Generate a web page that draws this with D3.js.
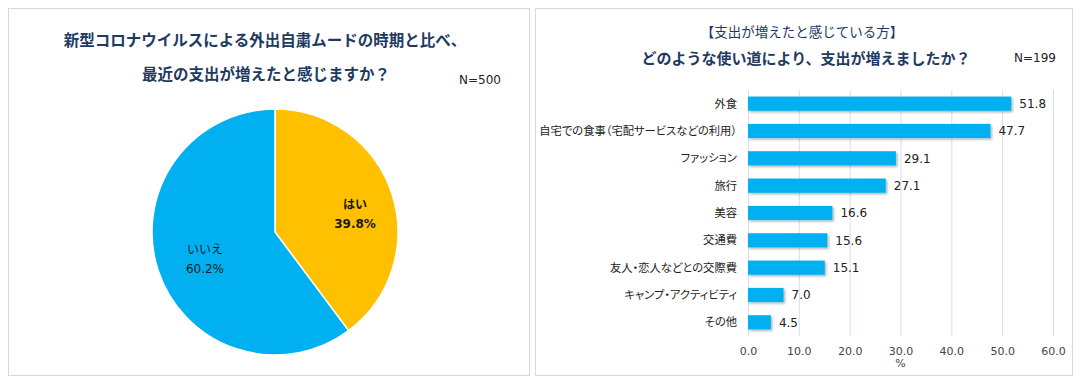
<!DOCTYPE html>
<html>
<head>
	<meta charset="utf-8">
	<title></title>
	<script src="https://d3js.org/d3.v7.min.js"></script>
	<style>
		body { margin: 0; background: #fff; }
		svg { font-family: "Noto Sans CJK JP", sans-serif; }
		.num { font-family: "DejaVu Sans", Verdana, sans-serif; }
		.cat { font-feature-settings: "palt"; }
		.grid line { stroke: #D9DCEF; stroke-width: 1; }
		.grid .domain { display: none; }
		.xaxis .domain, .xaxis line { display: none; }
	</style>
</head>
<body>
	<svg width="1079" height="380"></svg>
<script type="text/javascript">

	// pie data
	var pieLabels = ["はい", "いいえ"];
	var pieValues = [39.8, 60.2];
	var pieColors = ["#FFC000", "#00B0F0"];

	// bar data
	var categories = ["外食", "自宅での食事（宅配サービスなどの利用）", "ファッション", "旅行", "美容", "交通費", "友人・恋人などとの交際費", "キャンプ・アクティビティ", "その他"];
	var barValues = [51.8, 47.7, 29.1, 27.1, 16.6, 15.6, 15.1, 7.0, 4.5];
	var xTicks = [0, 10, 20, 30, 40, 50, 60];

	var navy = "#1F3A5F";
	var svg = d3.select("svg");

	// panel frames
	svg.append("rect").attr("x", 8.5).attr("y", 8.5).attr("width", 521).attr("height", 367)
		.attr("fill", "#fff").attr("stroke", "#D9D9D9");
	svg.append("rect").attr("x", 535.5).attr("y", 8.5).attr("width", 537).attr("height", 367)
		.attr("fill", "#fff").attr("stroke", "#D9D9D9");

	// ---- left: pie ----
	svg.append("text").attr("x", 265).attr("y", 46).attr("text-anchor", "middle")
		.attr("font-size", 15.5).attr("font-weight", "bold").attr("fill", navy)
		.text("新型コロナウイルスによる外出自粛ムードの時期と比べ、");
	svg.append("text").attr("x", 266).attr("y", 80).attr("text-anchor", "middle")
		.attr("font-size", 15.5).attr("font-weight", "bold").attr("fill", navy)
		.text("最近の支出が増えたと感じますか？");
	svg.append("text").attr("class", "num").attr("x", 459).attr("y", 84)
		.attr("font-size", 12).attr("fill", "#222").text("N=500");

	var cx = 275, cy = 232, r = 123;
	var pie = d3.pie().sort(null).value(function(d) { return d; });
	var arc = d3.arc().innerRadius(0).outerRadius(r);
	var arcs = pie(pieValues);
	var pg = svg.append("g").attr("transform", "translate(" + cx + "," + cy + ")");
	pg.selectAll("path").data(arcs).enter().append("path")
		.attr("d", arc)
		.attr("fill", function(d, i) { return pieColors[i]; })
		.attr("stroke", "#fff").attr("stroke-width", 1.5);

	// label nudges (excel "best fit" placement)
	var nudge = [[3, 8], [7, 1]];
	var labelArc = d3.arc().innerRadius(r * 0.66).outerRadius(r * 0.66);
	arcs.forEach(function(d, i) {
		var c = labelArc.centroid(d);
		var bx = c[0] + nudge[i][0], by = c[1] + nudge[i][1];
		var bold = i == 0 ? "bold" : "normal";
		pg.append("text").attr("x", bx).attr("y", by - 5).attr("text-anchor", "middle")
			.attr("font-size", 12).attr("font-weight", bold).attr("fill", "#1a1a1a")
			.text(pieLabels[i]);
		pg.append("text").attr("class", "num").attr("x", bx).attr("y", by + 14).attr("text-anchor", "middle")
			.attr("font-size", 12).attr("font-weight", bold).attr("fill", "#1a1a1a")
			.text(pieValues[i].toFixed(1) + "%");
	});

	// ---- right: bars ----
	svg.append("text").attr("x", 802).attr("y", 37).attr("text-anchor", "middle")
		.attr("font-size", 13.5).attr("fill", navy)
		.text("【支出が増えたと感じている方】");
	svg.append("text").attr("x", 806).attr("y", 64).attr("text-anchor", "middle")
		.attr("font-size", 15).attr("font-weight", "bold").attr("fill", navy)
		.text("どのような使い道により、支出が増えましたか？");
	svg.append("text").attr("class", "num").attr("x", 1014).attr("y", 62)
		.attr("font-size", 12).attr("fill", "#222").text("N=199");

	var margin = {left: 748, top: 90},
		width = 305, height = 246;
	var g = svg.append("g").attr("transform", "translate(" + margin.left + "," + margin.top + ")");

	var x = d3.scaleLinear().domain([0, 60]).range([0, width]);
	var y = d3.scaleBand().domain(categories).range([0, height]).paddingInner(0.48).paddingOuter(0.24);

	g.append("g").attr("class", "grid")
		.call(d3.axisBottom(x).tickValues(xTicks).tickSize(height).tickFormat(""));

	var defs = svg.append("defs");
	var f = defs.append("filter").attr("id", "shadow").attr("x", "-10%").attr("y", "-30%").attr("width", "130%").attr("height", "180%");
	f.append("feDropShadow").attr("dx", 1.5).attr("dy", 1.5).attr("stdDeviation", 1.2)
		.attr("flood-color", "#000").attr("flood-opacity", 0.3);

	g.selectAll(".bar").data(barValues).enter().append("rect")
		.attr("class", "bar")
		.attr("x", 0)
		.attr("y", function(d, i) { return y(categories[i]); })
		.attr("width", function(d) { return x(d); })
		.attr("height", y.bandwidth())
		.attr("fill", "#00B0F0")
		.attr("filter", "url(#shadow)");

	g.selectAll(".val").data(barValues).enter().append("text")
		.attr("class", "num")
		.attr("x", function(d) { return x(d) + 8; })
		.attr("y", function(d, i) { return y(categories[i]) + y.bandwidth() / 2; })
		.attr("dy", "0.35em")
		.attr("font-size", 12).attr("fill", "#222")
		.text(function(d) { return d.toFixed(1); });

	g.selectAll(".cat").data(categories).enter().append("text")
		.attr("class", "cat")
		.attr("x", -11)
		.attr("y", function(d) { return y(d) + y.bandwidth() / 2; })
		.attr("dy", "0.35em")
		.attr("text-anchor", "end")
		.attr("font-size", 11.3).attr("fill", "#222")
		.text(function(d) { return d; });

	g.append("g").attr("class", "xaxis num")
		.attr("transform", "translate(0," + height + ")")
		.call(d3.axisBottom(x).tickValues(xTicks).tickSize(0).tickPadding(11).tickFormat(d3.format(".1f")))
		.selectAll("text").attr("font-size", 11).attr("fill", "#444")
		.attr("font-family", "DejaVu Sans, Verdana, sans-serif");

	g.append("text").attr("class", "num").attr("x", x(30)).attr("y", height + 31)
		.attr("text-anchor", "middle").attr("font-size", 11).attr("fill", "#444").text("%");

</script>
</body>
</html>
